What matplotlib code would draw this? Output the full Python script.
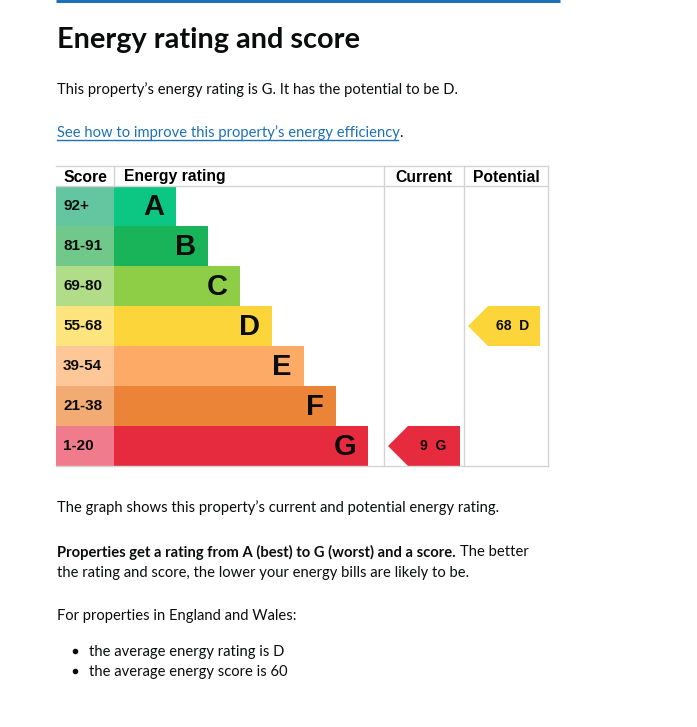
import matplotlib
matplotlib.use('Agg')
import matplotlib.pyplot as plt
from matplotlib.patches import Polygon

# data
ratings = ["A", "B", "C", "D", "E", "F", "G"]
score_bands = ["92+", "81-91", "69-80", "55-68", "39-54", "21-38", "1-20"]
band_min = [92, 81, 69, 55, 39, 21, 1]
bar_colors = ["#0cc784", "#19b459", "#8dce46", "#fcd53b", "#fcaa65", "#ec8437", "#e62b3e"]
cell_colors = ["#64c6a1", "#70c98b", "#b1dd88", "#fde47c", "#fdc797", "#f3ab74", "#f07b8d"]
current_score = 9
potential_score = 68
headers = ["Score", "Energy rating", "Current", "Potential"]

BODY = ["Lato", "DejaVu Sans"]
LABEL = ["Liberation Sans", "DejaVu Sans"]
BLUE = "#1d70b8"
GRID = "#d4d4d4"
FS = 10.6
DY = 2  # Lato sits a little high with va=center

fig = plt.figure(figsize=(6.97, 7.27), dpi=100)
ax = fig.add_axes([0, 0, 1, 1])
ax.set_xlim(0, 697)
ax.set_ylim(727, 0)
ax.axis("off")

# top rule
ax.plot([56, 560], [1, 1], color=BLUE, lw=2.2, solid_capstyle="butt")

ax.text(57, 38 + DY, "Energy rating and score", family=BODY, weight="bold", fontsize=20.8,
        va="center", ha="left", color="#0b0c0c")
ax.text(57, 88 + DY, "This property\u2019s energy rating is G. It has the potential to be D.",
        family=BODY, fontsize=FS, va="center", color="#0b0c0c")
link = ax.text(57, 131 + DY, "See how to improve this property\u2019s energy efficiency",
               family=BODY, fontsize=FS, va="center", color=BLUE)

# table geometry
top, head_h, row_h = 166, 20, 40
x0, x_bar, x_cur, x_pot, x_end = 56, 114, 384, 464, 548
row_y = [top + head_h + row_h * (i + 0.5) for i in range(len(ratings))]
bar_w = [62 + 32 * i for i in range(len(ratings))]

ax.barh(row_y, [x_bar - x0] * len(ratings), left=x0, height=row_h, color=cell_colors, lw=0)
ax.barh(row_y, bar_w, left=x_bar, height=row_h, color=bar_colors, lw=0)

for i, r in enumerate(ratings):
    ax.text(x_bar + bar_w[i] - 12, row_y[i] + 1, r, family=LABEL, weight="bold",
            fontsize=21, ha="right", va="center", color="#0b0c0c")
    ax.text(x0 + 7, row_y[i], score_bands[i], family=LABEL, weight="bold",
            fontsize=11, ha="left", va="center", color="#0b0c0c")

bottom = top + head_h + row_h * len(ratings)
ax.plot([x0, x_end], [top, top], color=GRID, lw=1)
ax.plot([x0, x_end], [top + head_h, top + head_h], color=GRID, lw=1)
ax.plot([x0, x_end], [bottom, bottom], color=GRID, lw=1)
ax.plot([x_bar, x_bar], [top, top + head_h], color=GRID, lw=1)
for xv in (x_cur, x_pot, x_end):
    ax.plot([xv, xv], [top, bottom], color=GRID, lw=1)

hy = top + head_h / 2 + 1
hfs = 11.3
ax.text((x0 + x_bar) / 2, hy, headers[0], family=LABEL, weight="bold", fontsize=hfs, ha="center", va="center")
ax.text(x_bar + 10, hy, headers[1], family=LABEL, weight="bold", fontsize=hfs, ha="left", va="center")
ax.text((x_cur + x_pot) / 2, hy, headers[2], family=LABEL, weight="bold", fontsize=hfs, ha="center", va="center")
ax.text((x_pot + x_end) / 2, hy, headers[3], family=LABEL, weight="bold", fontsize=hfs, ha="center", va="center")


def band_of(score):
    for i, lo in enumerate(band_min):
        if score >= lo:
            return i
    return len(band_min) - 1


def arrow(col_left, score):
    i = band_of(score)
    yc = row_y[i]
    tip, body, right = col_left + 4, col_left + 24, col_left + 76
    pts = [(tip, yc), (body, yc - row_h / 2), (right, yc - row_h / 2),
           (right, yc + row_h / 2), (body, yc + row_h / 2)]
    ax.add_patch(Polygon(pts, closed=True, color=bar_colors[i], lw=0))
    ax.text((body + right) / 2 - 1, yc, f"{score}  {ratings[i]}", family=LABEL, weight="bold",
            fontsize=10, ha="center", va="center", color="#0b0c0c")


arrow(x_cur, current_score)
arrow(x_pot, potential_score)

ax.text(57, 506 + DY, "The graph shows this property\u2019s current and potential energy rating.",
        family=BODY, fontsize=FS, va="center", color="#0b0c0c")
bold = ax.text(57, 550 + DY, "Properties get a rating from A (best) to G (worst) and a score.",
               family=BODY, weight="bold", fontsize=FS, va="center", color="#0b0c0c")
ax.text(57, 571 + DY, "the rating and score, the lower your energy bills are likely to be.",
        family=BODY, fontsize=FS, va="center", color="#0b0c0c")
ax.text(57, 614 + DY, "For properties in England and Wales:", family=BODY, fontsize=FS,
        va="center", color="#0b0c0c")
for yv, s in ((650, "the average energy rating is D"), (670, "the average energy score is 60")):
    ax.plot([75], [yv + 1], "o", color="#0b0c0c", ms=3.0)
    ax.text(89, yv + DY, s, family=BODY, fontsize=FS, va="center", color="#0b0c0c")

# follow-on text placed after measured extents
fig.canvas.draw()
inv = ax.transData.inverted()
bb = bold.get_window_extent()
xe = inv.transform((bb.x1, bb.y0))[0]
ax.text(xe + 4, 550 + DY, "The better", family=BODY, fontsize=FS, va="center", color="#0b0c0c")
lb = link.get_window_extent()
(lx0, ly), (lx1, _) = inv.transform((lb.x0, lb.y0)), inv.transform((lb.x1, lb.y0))
ax.plot([lx0, lx1 - 2], [ly, ly], color=BLUE, lw=1)
ax.text(lx1 - 1, 131 + DY, ".", family=BODY, fontsize=FS, va="center", color="#0b0c0c")

fig.savefig("out.png", dpi=100, facecolor="white")
